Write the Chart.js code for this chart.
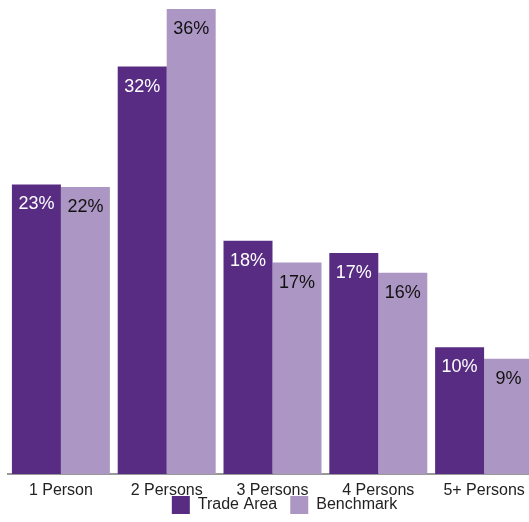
<!DOCTYPE html>
<html>
<head>
<meta charset="utf-8">
<script src="https://cdn.jsdelivr.net/npm/chart.js@4/dist/chart.umd.min.js"></script>
<style>
  html, body { margin: 0; padding: 0; overflow: hidden; background: #fff; }
  #wrap { position: absolute; left: 0; top: 0; width: 545px; height: 522px; }
</style>
</head>
<body>
<div id="wrap"><canvas id="myChart" width="545" height="522"></canvas></div>
<script>
const categories = ["1 Person", "2 Persons", "3 Persons", "4 Persons", "5+ Persons"];
const tradeArea = [22.6, 31.8, 18.2, 17.25, 9.9];
const benchmark = [22.4, 36.3, 16.5, 15.7, 9.0];

const darkPurple = "#582C83";
const lightPurple = "#AC96C4";
const font = "'Liberation Sans', Arial, sans-serif";

// labels inside the top of each bar
const barLabels = {
  id: "barLabels",
  afterDatasetsDraw(chart) {
    const ctx = chart.ctx;
    ctx.save();
    ctx.font = "18px " + font;
    ctx.textAlign = "center";
    ctx.textBaseline = "alphabetic";
    chart.data.datasets.forEach((ds, i) => {
      const meta = chart.getDatasetMeta(i);
      ctx.fillStyle = i === 0 ? "#ffffff" : "#111111";
      meta.data.forEach((bar, j) => {
        ctx.fillText(Math.round(ds.data[j]) + "%", bar.x, bar.y + 25);
      });
    });
    ctx.restore();
  },
};

// the x labels sit partly over the legend box, so let them draw there,
// and nudge the legend row a bit to the right like the original
const layoutTweak = {
  id: "layoutTweak",
  afterLayout(chart) {
    const x = chart.scales.x;
    x.bottom = x.top + 28;
    chart.legend.left += 12;
    chart.legend.right += 12;
  },
};

const myChart = document.getElementById("myChart").getContext("2d");

new Chart(myChart, {
  type: "bar",
  data: {
    labels: categories,
    datasets: [
      { label: "Trade Area", data: tradeArea, backgroundColor: darkPurple },
      { label: "Benchmark", data: benchmark, backgroundColor: lightPurple },
    ],
  },
  options: {
    responsive: false,
    animation: false,
    layout: { padding: { left: 8, right: 8, top: 0, bottom: -2 } },
    datasets: { bar: { categoryPercentage: 0.926, barPercentage: 1.0 } },
    scales: {
      x: {
        grid: { display: false, drawTicks: false },
        border: { display: true, color: "#999999", width: 2 },
        ticks: {
          padding: 7,
          color: "#222222",
          font: { family: font, size: 16 },
        },
        afterFit(scale) {
          scale.height = 9;
        },
      },
      y: { display: false, min: 0, max: 37 },
    },
    plugins: {
      legend: {
        position: "bottom",
        labels: {
          boxWidth: 18,
          boxHeight: 18,
          padding: 13,
          color: "#222222",
          font: { family: font, size: 16 },
        },
      },
      tooltip: { enabled: false },
    },
  },
  plugins: [barLabels, layoutTweak],
});
</script>
</body>
</html>
